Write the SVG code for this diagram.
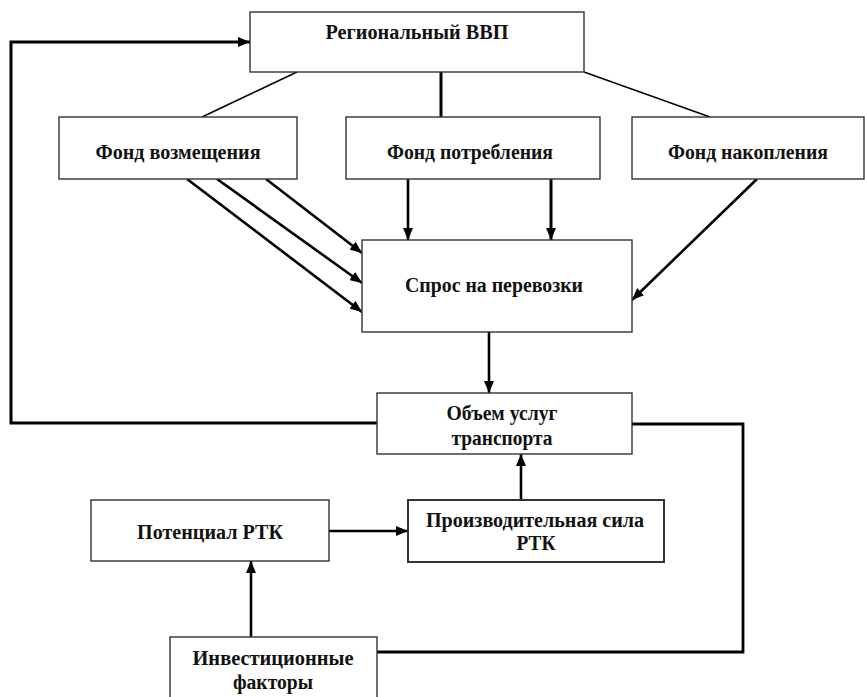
<svg xmlns="http://www.w3.org/2000/svg" width="865" height="697" viewBox="0 0 865 697">
  <style>
    .box { fill: #ffffff; stroke: #333333; stroke-width: 1.4; }
    .lbl { font-family: 'Liberation Serif', serif; font-weight: 700; font-size: 20px; fill: #111111; text-anchor: middle; dominant-baseline: central; }
    .thin { stroke: #000000; stroke-width: 1.6; fill: none; }
    .thick { stroke: #000000; stroke-width: 2.6; fill: none; }
    .arr { stroke: #000000; stroke-width: 2.6; fill: none; marker-end: url(#ah); }
  </style>
  <defs>
    <marker id="ah" markerUnits="userSpaceOnUse" markerWidth="12" markerHeight="10" refX="12" refY="5" orient="auto">
      <path d="M0,0 L12,5 L0,10 z" fill="#000000"/>
    </marker>
  </defs>
  <rect width="865" height="697" fill="#ffffff"/>

  <g id="connectors">
    <line class="thin" x1="297" y1="72" x2="202" y2="117"/>
    <line class="thick" x1="441" y1="72" x2="441" y2="117" style="stroke-width:3"/>
    <line class="thin" x1="584" y1="72" x2="710" y2="117"/>

    <line class="arr" x1="187" y1="179" x2="362" y2="312"/>
    <line class="arr" x1="217" y1="179" x2="362" y2="283"/>
    <line class="arr" x1="266" y1="179" x2="362" y2="253"/>
    <line class="arr" x1="408" y1="179" x2="408" y2="240"/>
    <line class="arr" x1="551" y1="179" x2="551" y2="240" style="stroke-width:3"/>
    <line class="arr" x1="757" y1="179" x2="632" y2="300"/>

    <line class="arr" x1="489" y1="332" x2="489" y2="393"/>
    <polyline class="arr" points="377,423 11,423 11,42 250,42" style="stroke-width:3"/>
    <polyline class="thick" points="632,424 743,424 743,652 377,652" style="stroke-width:2.8"/>
    <line class="arr" x1="521" y1="500" x2="521" y2="454"/>
    <line class="arr" x1="329" y1="531" x2="408" y2="531"/>
    <line class="arr" x1="251" y1="637" x2="251" y2="561"/>
  </g>

  <g id="node-vvp">
    <rect class="box" x="250" y="12" width="334" height="60"/>
    <text class="lbl" x="417" y="32" textLength="183" lengthAdjust="spacingAndGlyphs">Региональный ВВП</text>
  </g>
  <g id="node-fond-vozm">
    <rect class="box" x="59" y="117" width="238" height="62"/>
    <text class="lbl" x="178" y="152" textLength="165" lengthAdjust="spacingAndGlyphs">Фонд возмещения</text>
  </g>
  <g id="node-fond-potr">
    <rect class="box" x="346" y="117" width="254" height="62"/>
    <text class="lbl" x="470" y="152" textLength="166" lengthAdjust="spacingAndGlyphs">Фонд потребления</text>
  </g>
  <g id="node-fond-nak">
    <rect class="box" x="632" y="117" width="232" height="62"/>
    <text class="lbl" x="748" y="152" textLength="160" lengthAdjust="spacingAndGlyphs">Фонд накопления</text>
  </g>
  <g id="node-spros">
    <rect class="box" x="362" y="240" width="270" height="92"/>
    <text class="lbl" x="494" y="285" textLength="178" lengthAdjust="spacingAndGlyphs">Спрос на перевозки</text>
  </g>
  <g id="node-obem">
    <rect class="box" x="377" y="393" width="255" height="61"/>
    <text class="lbl" x="502" y="413" textLength="111" lengthAdjust="spacingAndGlyphs">Объем услуг</text>
    <text class="lbl" x="502" y="438" textLength="101" lengthAdjust="spacingAndGlyphs">транспорта</text>
  </g>
  <g id="node-potencial">
    <rect class="box" x="91" y="500" width="238" height="61"/>
    <text class="lbl" x="210" y="532" textLength="146" lengthAdjust="spacingAndGlyphs">Потенциал РТК</text>
  </g>
  <g id="node-proizv">
    <rect class="box" x="408" y="500" width="256" height="62" style="stroke-width:2"/>
    <text class="lbl" x="535" y="520" textLength="218" lengthAdjust="spacingAndGlyphs">Производительная сила</text>
    <text class="lbl" x="536" y="543" textLength="39" lengthAdjust="spacingAndGlyphs">РТК</text>
  </g>
  <g id="node-invest">
    <rect class="box" x="170" y="637" width="207" height="64"/>
    <text class="lbl" x="273" y="658" textLength="161" lengthAdjust="spacingAndGlyphs">Инвестиционные</text>
    <text class="lbl" x="273" y="682" textLength="80" lengthAdjust="spacingAndGlyphs">факторы</text>
  </g>
</svg>
